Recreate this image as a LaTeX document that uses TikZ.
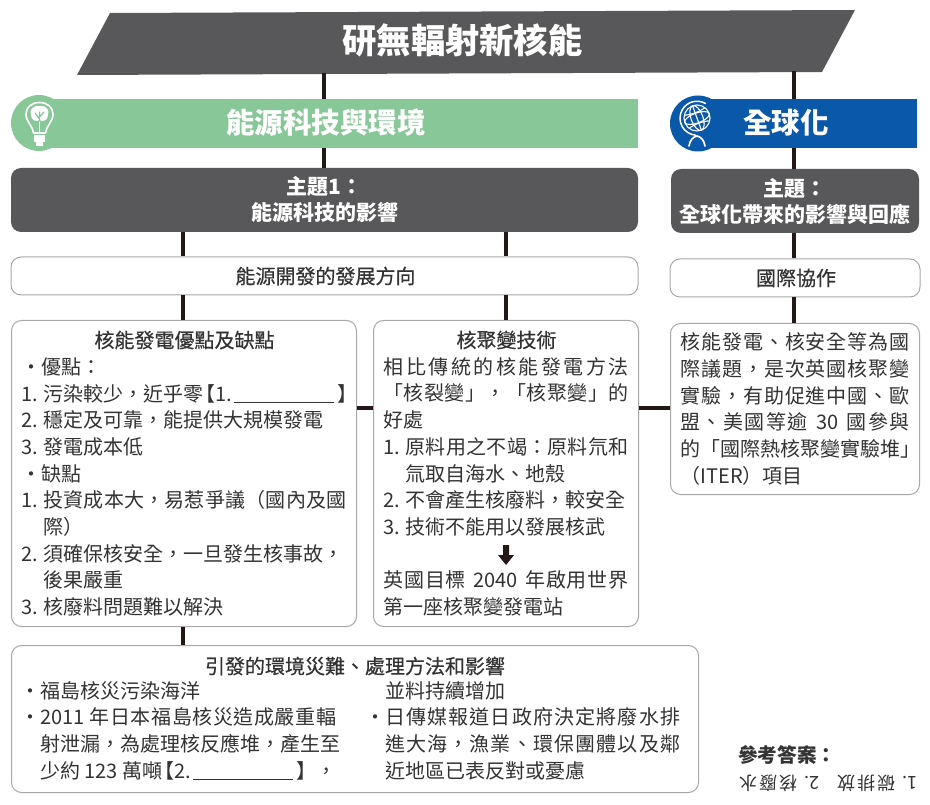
\documentclass[tikz,border=0pt]{standalone}
\usepackage{fontspec}
\setmainfont{Noto Sans CJK TC}
\newfontfamily\medfont{Noto Sans CJK TC}[FakeBold=0.5]
\usetikzlibrary{shapes.geometric}
\definecolor{darkbox}{HTML}{58585A}
\definecolor{greenband}{HTML}{88C798}
\definecolor{blueband}{HTML}{0A58AA}
\definecolor{linkcol}{HTML}{231815}
\definecolor{framecol}{HTML}{A8A8A8}
\definecolor{bodytext}{HTML}{333333}
\makeatletter
\newcommand\spc[2]{\makebox[#1pt][s]{\@tfor\xx:=#2\do{\xx\hskip 0pt plus 1fil}\unskip}}
\makeatother
\newcommand\nm[1]{\makebox[22pt][l]{#1}}
\newcommand\ind{\hspace*{22pt}}
\newcommand\blank{\rule[-2pt]{100pt}{0.7pt}}
\tikzset{
  link/.style={draw=linkcol,line width=4pt},
  darkrect/.style={fill=darkbox,rounded corners=10pt,text=white,font=\fontsize{21}{26}\selectfont\bfseries,align=center,inner sep=0pt},
  band/.style={text=white,font=\fontsize{28.5}{32}\selectfont\bfseries,inner sep=0pt},
  frame/.style={draw=framecol,line width=1pt,fill=white,rounded corners=10pt,text=bodytext,inner ysep=0pt,inner xsep=10pt,align=left,font=\fontsize{20}{26.7}\selectfont},
  plain/.style={text=bodytext,inner sep=0pt,align=left,font=\fontsize{20}{26.7}\selectfont},
  icon/.style={draw=white,line width=1.6pt,line cap=round,line join=round}
}
\begin{document}
\begin{tikzpicture}[x=1pt,y=-1pt]
\useasboundingbox (0,0) rectangle (930,805);
% title
\fill[darkbox] (77,75) -- (110,13) -- (855,10) -- (822,72) -- cycle;
\node[text=white,font=\fontsize{34.3}{38}\selectfont\bfseries,inner sep=0pt] (title) at (462.5,40) {研無輻射新核能};
\coordinate (titleL) at (324,73);
\coordinate (titleR) at (793.5,71);
% bands
\fill[greenband] (39,123) circle (28) ;
\fill[greenband] (39,99) rectangle (638,148);
\node[band] (green) at (326,123) {能源科技與環境};
\fill[blueband] (698,123.5) circle (28);
\fill[blueband] (698,99) rectangle (917,148);
\node[band] (blue) at (786,123) {全球化};
\coordinate (greenTop) at (324,99);\coordinate (greenBot) at (324,148);
\coordinate (blueTop) at (793.5,99);\coordinate (blueBot) at (793.5,148);
% dark boxes
\node[darkrect,minimum width=627pt,minimum height=64pt] (themeL) at (324.5,200) {主題1：\\能源科技的影響};
\node[darkrect,minimum width=248pt,minimum height=64pt] (themeR) at (795,201) {主題：\\全球化帶來的影響與回應};
% direction boxes
\node[frame,align=center,minimum width=627pt,minimum height=38pt] (devL) at (324.5,276) {\medfont\spc{178}{能源開發的發展方向}};
\node[frame,align=center,minimum width=250pt,minimum height=38pt] (devR) at (795,278) {\medfont\spc{78}{國際協作}};
% box A
\node[frame,text width=325pt,minimum height=306pt,anchor=north west] (boxA) at (11,320) {%
\hspace*{73pt}{\medfont 核能發電優點及缺點}\\
・優點：\\
\nm{1.}污染較少，近乎零\kern-8pt【1.\kern2pt\blank\kern3pt】\\
\nm{2.}穩定及可靠，能提供大規模發電\\
\nm{3.}發電成本低\\
・缺點\\
\nm{1.}\spc{303}{投資成本大，易惹爭議（國內及國}\\
\ind 際）\\
\nm{2.}\spc{290}{須確保核安全，一旦發生核事故，}\\
\ind 後果嚴重\\
\nm{3.}核廢料問題難以解決};
% box B
\node[frame,text width=245pt,minimum height=306pt,anchor=north west] (boxB) at (373,320) {%
\hspace*{73pt}{\medfont 核聚變技術}\\
\spc{245}{相比傳統的核能發電方法}\\
\spc{245}{「核裂變」，「核聚變」的}\\
好處\\
\nm{1.}\spc{223}{原料用之不竭：原料氘和}\\
\ind 氚取自海水、地殼\\
\nm{2.}不會產生核廢料，較安全\\
\nm{3.}技術不能用以發展核武\\
\hspace*{115pt}\vphantom{口}\\
\spc{245}{英國目標{\ 2040\ }年啟用世界}\\
第一座核聚變發電站};
\fill[linkcol] (503,545) -- (509,545) -- (509,555) -- (514,555) -- (506,565) -- (498,555) -- (503,555) -- cycle;
% box C
\node[frame,text width=229pt,minimum height=171pt,anchor=north west] (boxC) at (670,323) {%
\spc{229}{核能發電、核安全等為國}\\
\spc{229}{際議題，是次英國核聚變}\\
\spc{229}{實驗，有助促進中國、歐}\\
\spc{229}{盟、美國等逾{\ 30\ }國參與}\\
\spc{229}{的「國際熱核聚變實驗堆」}\\
（ITER）項目};
% box D
\node[frame,text width=667pt,minimum width=687pt,minimum height=147pt,anchor=north west] (boxD) at (11,645) {};
\node[plain] (dTitle) at (354,666) {\medfont\spc{298}{引發的環境災難、處理方法和影響}};
\node[plain,anchor=north west] (dLeft) at (20,681) {%
・福島核災污染海洋\\
・\spc{296}{{2011\ }年日本福島核災造成嚴重輻}\\
\hspace*{20pt}\spc{295}{射泄漏，為處理核反應堆，產生至}\\
\hspace*{20pt}少約{\ 123\ }萬噸\kern-8pt【2.\kern2pt\blank\kern3pt】，};
\node[plain,anchor=north west] (dRight) at (365,681) {%
\hspace*{20pt}並料持續增加\\
・\spc{295}{日傳媒報道日政府決定將廢水排}\\
\hspace*{20pt}\spc{295}{進大海，漁業、環保團體以及鄰}\\
\hspace*{20pt}近地區已表反對或憂慮};
% answers
\node[text=bodytext,inner sep=0pt,anchor=west,font=\fontsize{19.6}{22}\selectfont\bfseries] (ansHead) at (738,755) {參考答案：};
\node[text=bodytext,inner sep=0pt,rotate=180,font=\fontsize{18}{20}\selectfont] (ansBody) at (828.5,783) {\makebox[178pt][s]{1.\hfil\spc{58}{碳排放}\hskip 18pt 2.\hskip 7pt\spc{58}{核廢水}}};
% connectors
\draw[link] (titleL) -- (greenTop);
\draw[link] (greenBot) -- (themeL.north -| greenBot);
\draw[link] (titleR) -- (blueTop);
\draw[link] (blueBot) -- (themeR.north -| blueBot);
\draw[link] (themeR.south -| blueBot) -- (devR.north -| blueBot);
\draw[link] (devR.south -| blueBot) -- (boxC.north -| blueBot);
\coordinate (colA) at (183,0);
\coordinate (colB) at (506,0);
\coordinate (rowH) at (0,408);
\draw[link] (themeL.south -| colA) -- (devL.north -| colA);
\draw[link] (themeL.south -| colB) -- (devL.north -| colB);
\draw[link] (devL.south -| colA) -- (boxA.north -| colA);
\draw[link] (devL.south -| colB) -- (boxB.north -| colB);
\draw[link] (boxA.south -| colA) -- (boxD.north -| colA);
\draw[link] (boxA.east |- rowH) -- (boxB.west |- rowH);
\draw[link] (boxB.east |- rowH) -- (boxC.west |- rowH);
% bulb icon
\draw[icon] (33.5,133) .. controls (33,126) and (26,122) .. (26,114) .. controls (26,107) and (32,102.5) .. (39.5,102.5) .. controls (47,102.5) and (53,107) .. (53,114) .. controls (53,122) and (46,126) .. (45.5,133) -- cycle;
\fill[white] (39.5,106) .. controls (33,105) and (29,110) .. (31,115) .. controls (31,121) and (37,122) .. (39.5,120) .. controls (42,122) and (48,121) .. (48,115) .. controls (50,110) and (46,105) .. (39.5,106) -- cycle;
\draw[white,line width=1.6pt] (39.5,120) -- (39.5,132);
\draw[greenband,line width=1.2pt,line cap=round] (39.5,121) -- (39.5,112) (39.5,119) -- (35,113) (39.5,117) -- (44,112);
\fill[white] (34,135) rectangle (45,142);
\fill[white] (36,142) rectangle (43,146);
% globe icon
\begin{scope}[icon,line width=1.1pt]
\draw (697,118) circle (13);
\begin{scope}[rotate around={20:(697,118)}]
\draw (697,118) ellipse (6 and 13);
\draw (697,105) -- (697,131);
\draw (697,118) ellipse (13 and 5);
\draw (686,111) .. controls (692,113) and (702,113) .. (708,111);
\draw (686,125) .. controls (692,123) and (702,123) .. (708,125);
\end{scope}
\draw[line width=1.5pt] (705.5,103.5) arc[start angle=-60,end angle=-265,radius=17];
\draw[line width=1.7pt] (689,146) .. controls (690,140) and (693,137) .. (697,136) .. controls (701,137) and (704,140) .. (705,146);
\end{scope}
\end{tikzpicture}
\end{document}
